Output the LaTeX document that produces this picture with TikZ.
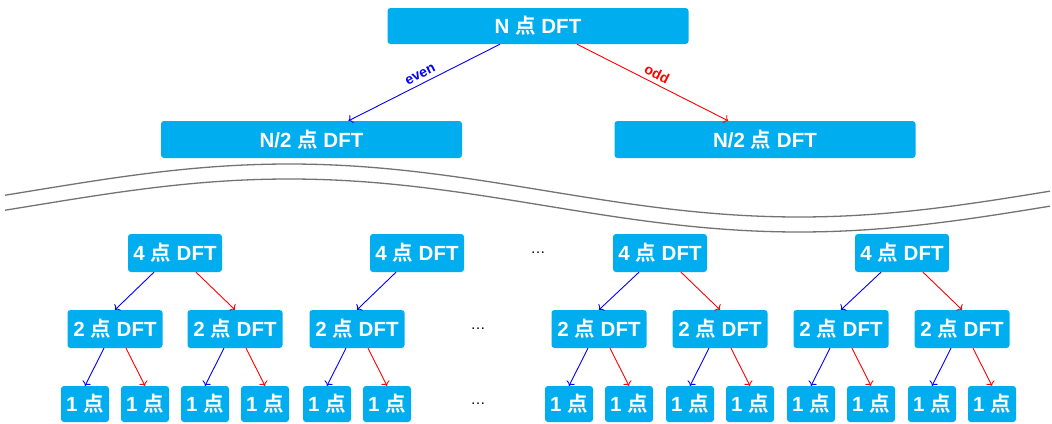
\documentclass[tikz,border=0pt]{standalone}
\usepackage{fontspec}
\usetikzlibrary{arrows.meta}
\setmainfont{Liberation Sans}
\newfontfamily\cjk{Noto Sans CJK SC}[BoldFont={Noto Sans CJK SC Bold}]
\newcommand{\dian}{{\cjk 点}}
\definecolor{dftblue}{RGB}{0,174,239}

\begin{document}
\begin{tikzpicture}[x=1pt,y=-1pt,
		box/.style={fill=dftblue, rounded corners=3pt, text=white, inner sep=0pt,
			font=\fontsize{20.5}{24}\selectfont\bfseries, minimum height=37pt},
		evenline/.style={draw=blue, line width=0.9pt, -{To[length=4pt,width=9pt]}},
		oddline/.style={draw=red, line width=0.9pt, -{To[length=4pt,width=9pt]}},
		wave/.style={draw=black!55, line width=1.3pt},
		dots/.style={font=\fontsize{15}{18}\selectfont}]
		\useasboundingbox (0,0) rectangle (1052,423);

		% top levels
		\node[box, minimum width=301pt, minimum height=36pt] (n) at (538,26) {N \dian{} DFT};
		\node[box, minimum width=301pt] (h1) at (311.5,139.5) {N/2 \dian{} DFT};
		\node[box, minimum width=301pt] (h2) at (765,139.5) {N/2 \dian{} DFT};

		\draw[evenline] ([xshift=-38pt]n.south) -- (h1) node[midway, above=1pt, sloped, text=blue, font=\fontsize{14}{16}\selectfont\bfseries] {even};
		\draw[oddline] ([xshift=39pt]n.south) -- (h2) node[midway, above=1pt, sloped, text=red, font=\fontsize{14}{16}\selectfont\bfseries] {odd};

		% break between the levels
		\draw[wave] plot[domain=5:1050, samples=120] (\x, {190.5 - 26.5*sin((\x-34)/1020*360)});
		\draw[wave] plot[domain=5:1050, samples=120] (\x, {205.5 - 26.5*sin((\x-34)/1020*360)});

		% 4 point
		\node[box, minimum width=94pt, minimum height=38pt] (f1) at (175,253) {4 \dian{} DFT};
		\node[box, minimum width=94pt, minimum height=38pt] (f2) at (417,253) {4 \dian{} DFT};
		\node[box, minimum width=94pt, minimum height=38pt] (f3) at (660,253) {4 \dian{} DFT};
		\node[box, minimum width=94pt, minimum height=38pt] (f4) at (902,253) {4 \dian{} DFT};
		\node[dots] (d1) at (538,253) {\ldots};

		% 2 point
		\node[box, minimum width=95pt, minimum height=38pt] (t1) at (115,329) {2 \dian{} DFT};
		\node[box, minimum width=95pt, minimum height=38pt] (t2) at (235,329) {2 \dian{} DFT};
		\node[box, minimum width=95pt, minimum height=38pt] (t3) at (357,329) {2 \dian{} DFT};
		\node[box, minimum width=95pt, minimum height=38pt] (t4) at (599,329) {2 \dian{} DFT};
		\node[box, minimum width=95pt, minimum height=38pt] (t5) at (720,329) {2 \dian{} DFT};
		\node[box, minimum width=95pt, minimum height=38pt] (t6) at (841,329) {2 \dian{} DFT};
		\node[box, minimum width=95pt, minimum height=38pt] (t7) at (962,329) {2 \dian{} DFT};
		\node[dots] (d2) at (478,329) {\ldots};

		% 1 point
		\node[box, minimum width=48pt, minimum height=36pt] (o1) at (85,404) {1 \dian};
		\node[box, minimum width=48pt, minimum height=36pt] (o2) at (145,404) {1 \dian};
		\node[box, minimum width=48pt, minimum height=36pt] (o3) at (205,404) {1 \dian};
		\node[box, minimum width=48pt, minimum height=36pt] (o4) at (265,404) {1 \dian};
		\node[box, minimum width=48pt, minimum height=36pt] (o5) at (327,404) {1 \dian};
		\node[box, minimum width=48pt, minimum height=36pt] (o6) at (387,404) {1 \dian};
		\node[box, minimum width=48pt, minimum height=36pt] (o7) at (569,404) {1 \dian};
		\node[box, minimum width=48pt, minimum height=36pt] (o8) at (629,404) {1 \dian};
		\node[box, minimum width=48pt, minimum height=36pt] (o9) at (690,404) {1 \dian};
		\node[box, minimum width=48pt, minimum height=36pt] (o10) at (750,404) {1 \dian};
		\node[box, minimum width=48pt, minimum height=36pt] (o11) at (811,404) {1 \dian};
		\node[box, minimum width=48pt, minimum height=36pt] (o12) at (871,404) {1 \dian};
		\node[box, minimum width=48pt, minimum height=36pt] (o13) at (932,404) {1 \dian};
		\node[box, minimum width=48pt, minimum height=36pt] (o14) at (992,404) {1 \dian};
		\node[dots] (d3) at (478,404) {\ldots};

		% 4 -> 2
		\draw[evenline] ([xshift=-21pt]f1.south) -- (t1.north);
		\draw[oddline] ([xshift=21pt]f1.south) -- (t2.north);
		\draw[evenline] ([xshift=-21pt]f2.south) -- (t3.north);
		\draw[evenline] ([xshift=-21pt]f3.south) -- (t4.north);
		\draw[oddline] ([xshift=21pt]f3.south) -- (t5.north);
		\draw[evenline] ([xshift=-21pt]f4.south) -- (t6.north);
		\draw[oddline] ([xshift=21pt]f4.south) -- (t7.north);

		% 2 -> 1
		\draw[evenline] ([xshift=-11pt]t1.south) -- (o1.north);
		\draw[oddline] ([xshift=11pt]t1.south) -- (o2.north);
		\draw[evenline] ([xshift=-11pt]t2.south) -- (o3.north);
		\draw[oddline] ([xshift=11pt]t2.south) -- (o4.north);
		\draw[evenline] ([xshift=-11pt]t3.south) -- (o5.north);
		\draw[oddline] ([xshift=11pt]t3.south) -- (o6.north);
		\draw[evenline] ([xshift=-11pt]t4.south) -- (o7.north);
		\draw[oddline] ([xshift=11pt]t4.south) -- (o8.north);
		\draw[evenline] ([xshift=-11pt]t5.south) -- (o9.north);
		\draw[oddline] ([xshift=11pt]t5.south) -- (o10.north);
		\draw[evenline] ([xshift=-11pt]t6.south) -- (o11.north);
		\draw[oddline] ([xshift=11pt]t6.south) -- (o12.north);
		\draw[evenline] ([xshift=-11pt]t7.south) -- (o13.north);
		\draw[oddline] ([xshift=11pt]t7.south) -- (o14.north);
	\end{tikzpicture}
\end{document}
